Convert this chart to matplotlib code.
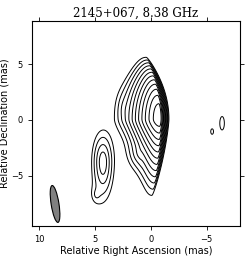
import numpy as np
import matplotlib
matplotlib.use('Agg')
import matplotlib.pyplot as plt
from matplotlib.patches import Ellipse

# core: RA, Dec (mas), scales east / west, north (gaussian) / south, lean
core_ra, core_dec = -0.8, 0.1
core_se, core_sw = 0.39, 0.083
core_sn, core_ss = 1.37, 0.80
core_lean_n, core_lean_s = 0.04, 0.015

# other components (softened exponential profiles): RA, Dec (mas), peak,
# scale east / west / north / south (mas)
comp_ra = [1.0, 2.4, 4.3, 4.9, -5.5, -6.4]
comp_dec = [-3.0, 1.0, -3.8, -6.7, -1.05, -0.3]
comp_amp = [0.0015, 0.0006, 0.0045, 0.0005, 0.00045, 0.0005]
comp_se = [0.45, 0.4, 0.32, 0.3, 0.15, 0.23]
comp_sw = [0.20, 0.4, 0.32, 0.3, 0.15, 0.23]
comp_sn = [0.6, 0.9, 0.9, 0.5, 0.3, 0.68]
comp_ss = [0.6, 0.9, 1.07, 0.5, 0.3, 0.68]

lowest = 0.0003
n_levels = 12

beam_ra, beam_dec = 8.6, -7.55
beam_w, beam_h, beam_pa = 0.7, 3.35, -9

title = '2145+067, 8.38 GHz'

ra = np.linspace(11, -8.5, 700)
dec = np.linspace(-10, 9.5, 700)
X, Y = np.meshgrid(ra, dec)

dy = Y - core_dec
xc = core_ra + np.where(dy > 0, core_lean_n, core_lean_s) * dy ** 2
dx = X - xc
hx = 2.0 - np.sqrt(4.0 + (dx / np.where(dx > 0, core_se, core_sw)) ** 2)
gy = np.where(dy > 0, -0.5 * (dy / core_sn) ** 2,
              0.5 - np.sqrt(0.25 + (dy / core_ss) ** 2))
img = np.exp(hx + gy)

for x0, y0, a, se, sw, sn, ss in zip(comp_ra, comp_dec, comp_amp,
                                     comp_se, comp_sw, comp_sn, comp_ss):
    dx = X - x0
    dy = Y - y0
    sx = np.where(dx > 0, se, sw)
    sy = np.where(dy > 0, sn, ss)
    r2 = (dx / sx) ** 2 + (dy / sy) ** 2
    img += a * np.exp(0.5 - np.sqrt(0.25 + r2))

levels = lowest * 2.0 ** np.arange(n_levels)

fig = plt.figure(figsize=(2.49, 2.60), dpi=100)
ax = fig.add_axes([0.1285, 0.127, 0.835, 0.796])
ax.contour(X, Y, img, levels=levels, colors='black', linewidths=0.7)
ax.add_patch(Ellipse((beam_ra, beam_dec), beam_w, beam_h, angle=beam_pa,
                     facecolor='gray', edgecolor='black', linewidth=0.8))

ax.set_xlim(10.67, -8.0)
ax.set_ylim(-9.55, 8.9)
ax.set_aspect('equal', adjustable='box')
ax.set_xticks([10, 5, 0, -5])
ax.set_yticks([-5, 0, 5])
ax.tick_params(labelsize=6, direction='out', length=3, width=0.6,
               top=True, right=True)
ax.set_xlabel('Relative Right Ascension (mas)', fontsize=7, labelpad=1)
ax.set_ylabel('Relative Declination (mas)', fontsize=7, labelpad=1)
ax.set_title(title, fontsize=8.5, family='DejaVu Serif', pad=3)
for s in ax.spines.values():
    s.set_linewidth(0.8)

fig.savefig('out.png', dpi=100)
